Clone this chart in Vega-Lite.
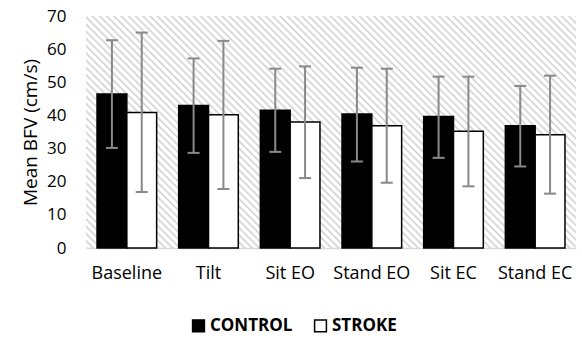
{
  "$schema": "https://vega.github.io/schema/vega-lite/v6.json",
  "autosize": {"type": "none"},
  "width": 490,
  "height": 232,
  "padding": {"left": 86, "top": 16, "right": 6, "bottom": 90},
  "background": "white",
  "config": {
    "font": "Open Sans",
    "axisY": {
      "values": [0, 10, 20, 30, 40, 50, 60, 70],
      "labelOverlap": false,
      "grid": false, "domain": false, "ticks": false,
      "labelFontSize": 17, "labelColor": "#000000", "labelPadding": 20,
      "titleFontSize": 19, "titleFontWeight": "normal",
      "titleColor": "#000000", "titlePadding": 6
    },
    "view": {
      "stroke": null,
      "fill": {
        "gradient": "linear",
        "x1": 0, "y1": 1, "x2": 1.20365, "y2": 0.4301,
        "stops": [
{"offset":0.000,"color":"#cfcfcf"},{"offset":0.003,"color":"#ffffff"},{"offset":0.007,"color":"#ffffff"},
{"offset":0.010,"color":"#cfcfcf"},{"offset":0.013,"color":"#ffffff"},{"offset":0.017,"color":"#ffffff"},
{"offset":0.020,"color":"#cfcfcf"},{"offset":0.023,"color":"#ffffff"},{"offset":0.027,"color":"#ffffff"},
{"offset":0.030,"color":"#cfcfcf"},{"offset":0.033,"color":"#ffffff"},{"offset":0.037,"color":"#ffffff"},
{"offset":0.040,"color":"#cfcfcf"},{"offset":0.043,"color":"#ffffff"},{"offset":0.047,"color":"#ffffff"},
{"offset":0.050,"color":"#cfcfcf"},{"offset":0.053,"color":"#ffffff"},{"offset":0.057,"color":"#ffffff"},
{"offset":0.060,"color":"#cfcfcf"},{"offset":0.063,"color":"#ffffff"},{"offset":0.067,"color":"#ffffff"},
{"offset":0.070,"color":"#cfcfcf"},{"offset":0.073,"color":"#ffffff"},{"offset":0.077,"color":"#ffffff"},
{"offset":0.080,"color":"#cfcfcf"},{"offset":0.083,"color":"#ffffff"},{"offset":0.087,"color":"#ffffff"},
{"offset":0.090,"color":"#cfcfcf"},{"offset":0.093,"color":"#ffffff"},{"offset":0.097,"color":"#ffffff"},
{"offset":0.100,"color":"#cfcfcf"},{"offset":0.103,"color":"#ffffff"},{"offset":0.107,"color":"#ffffff"},
{"offset":0.110,"color":"#cfcfcf"},{"offset":0.113,"color":"#ffffff"},{"offset":0.117,"color":"#ffffff"},
{"offset":0.120,"color":"#cfcfcf"},{"offset":0.123,"color":"#ffffff"},{"offset":0.127,"color":"#ffffff"},
{"offset":0.130,"color":"#cfcfcf"},{"offset":0.133,"color":"#ffffff"},{"offset":0.137,"color":"#ffffff"},
{"offset":0.140,"color":"#cfcfcf"},{"offset":0.143,"color":"#ffffff"},{"offset":0.147,"color":"#ffffff"},
{"offset":0.150,"color":"#cfcfcf"},{"offset":0.153,"color":"#ffffff"},{"offset":0.157,"color":"#ffffff"},
{"offset":0.160,"color":"#cfcfcf"},{"offset":0.163,"color":"#ffffff"},{"offset":0.167,"color":"#ffffff"},
{"offset":0.170,"color":"#cfcfcf"},{"offset":0.173,"color":"#ffffff"},{"offset":0.177,"color":"#ffffff"},
{"offset":0.180,"color":"#cfcfcf"},{"offset":0.183,"color":"#ffffff"},{"offset":0.187,"color":"#ffffff"},
{"offset":0.190,"color":"#cfcfcf"},{"offset":0.193,"color":"#ffffff"},{"offset":0.197,"color":"#ffffff"},
{"offset":0.200,"color":"#cfcfcf"},{"offset":0.203,"color":"#ffffff"},{"offset":0.207,"color":"#ffffff"},
{"offset":0.210,"color":"#cfcfcf"},{"offset":0.213,"color":"#ffffff"},{"offset":0.217,"color":"#ffffff"},
{"offset":0.220,"color":"#cfcfcf"},{"offset":0.223,"color":"#ffffff"},{"offset":0.227,"color":"#ffffff"},
{"offset":0.230,"color":"#cfcfcf"},{"offset":0.233,"color":"#ffffff"},{"offset":0.237,"color":"#ffffff"},
{"offset":0.240,"color":"#cfcfcf"},{"offset":0.243,"color":"#ffffff"},{"offset":0.247,"color":"#ffffff"},
{"offset":0.250,"color":"#cfcfcf"},{"offset":0.253,"color":"#ffffff"},{"offset":0.257,"color":"#ffffff"},
{"offset":0.260,"color":"#cfcfcf"},{"offset":0.263,"color":"#ffffff"},{"offset":0.267,"color":"#ffffff"},
{"offset":0.270,"color":"#cfcfcf"},{"offset":0.273,"color":"#ffffff"},{"offset":0.277,"color":"#ffffff"},
{"offset":0.280,"color":"#cfcfcf"},{"offset":0.283,"color":"#ffffff"},{"offset":0.287,"color":"#ffffff"},
{"offset":0.290,"color":"#cfcfcf"},{"offset":0.293,"color":"#ffffff"},{"offset":0.297,"color":"#ffffff"},
{"offset":0.300,"color":"#cfcfcf"},{"offset":0.303,"color":"#ffffff"},{"offset":0.307,"color":"#ffffff"},
{"offset":0.310,"color":"#cfcfcf"},{"offset":0.313,"color":"#ffffff"},{"offset":0.317,"color":"#ffffff"},
{"offset":0.320,"color":"#cfcfcf"},{"offset":0.323,"color":"#ffffff"},{"offset":0.327,"color":"#ffffff"},
{"offset":0.330,"color":"#cfcfcf"},{"offset":0.333,"color":"#ffffff"},{"offset":0.337,"color":"#ffffff"},
{"offset":0.340,"color":"#cfcfcf"},{"offset":0.343,"color":"#ffffff"},{"offset":0.347,"color":"#ffffff"},
{"offset":0.350,"color":"#cfcfcf"},{"offset":0.353,"color":"#ffffff"},{"offset":0.357,"color":"#ffffff"},
{"offset":0.360,"color":"#cfcfcf"},{"offset":0.363,"color":"#ffffff"},{"offset":0.367,"color":"#ffffff"},
{"offset":0.370,"color":"#cfcfcf"},{"offset":0.373,"color":"#ffffff"},{"offset":0.377,"color":"#ffffff"},
{"offset":0.380,"color":"#cfcfcf"},{"offset":0.383,"color":"#ffffff"},{"offset":0.387,"color":"#ffffff"},
{"offset":0.390,"color":"#cfcfcf"},{"offset":0.393,"color":"#ffffff"},{"offset":0.397,"color":"#ffffff"},
{"offset":0.400,"color":"#cfcfcf"},{"offset":0.403,"color":"#ffffff"},{"offset":0.407,"color":"#ffffff"},
{"offset":0.410,"color":"#cfcfcf"},{"offset":0.413,"color":"#ffffff"},{"offset":0.417,"color":"#ffffff"},
{"offset":0.420,"color":"#cfcfcf"},{"offset":0.423,"color":"#ffffff"},{"offset":0.427,"color":"#ffffff"},
{"offset":0.430,"color":"#cfcfcf"},{"offset":0.433,"color":"#ffffff"},{"offset":0.437,"color":"#ffffff"},
{"offset":0.440,"color":"#cfcfcf"},{"offset":0.443,"color":"#ffffff"},{"offset":0.447,"color":"#ffffff"},
{"offset":0.450,"color":"#cfcfcf"},{"offset":0.453,"color":"#ffffff"},{"offset":0.457,"color":"#ffffff"},
{"offset":0.460,"color":"#cfcfcf"},{"offset":0.463,"color":"#ffffff"},{"offset":0.467,"color":"#ffffff"},
{"offset":0.470,"color":"#cfcfcf"},{"offset":0.473,"color":"#ffffff"},{"offset":0.477,"color":"#ffffff"},
{"offset":0.480,"color":"#cfcfcf"},{"offset":0.483,"color":"#ffffff"},{"offset":0.487,"color":"#ffffff"},
{"offset":0.490,"color":"#cfcfcf"},{"offset":0.493,"color":"#ffffff"},{"offset":0.497,"color":"#ffffff"},
{"offset":0.500,"color":"#cfcfcf"},{"offset":0.503,"color":"#ffffff"},{"offset":0.507,"color":"#ffffff"},
{"offset":0.510,"color":"#cfcfcf"},{"offset":0.513,"color":"#ffffff"},{"offset":0.517,"color":"#ffffff"},
{"offset":0.520,"color":"#cfcfcf"},{"offset":0.523,"color":"#ffffff"},{"offset":0.527,"color":"#ffffff"},
{"offset":0.530,"color":"#cfcfcf"},{"offset":0.533,"color":"#ffffff"},{"offset":0.537,"color":"#ffffff"},
{"offset":0.540,"color":"#cfcfcf"},{"offset":0.543,"color":"#ffffff"},{"offset":0.547,"color":"#ffffff"},
{"offset":0.550,"color":"#cfcfcf"},{"offset":0.553,"color":"#ffffff"},{"offset":0.557,"color":"#ffffff"},
{"offset":0.560,"color":"#cfcfcf"},{"offset":0.563,"color":"#ffffff"},{"offset":0.567,"color":"#ffffff"},
{"offset":0.570,"color":"#cfcfcf"},{"offset":0.573,"color":"#ffffff"},{"offset":0.577,"color":"#ffffff"},
{"offset":0.580,"color":"#cfcfcf"},{"offset":0.583,"color":"#ffffff"},{"offset":0.587,"color":"#ffffff"},
{"offset":0.590,"color":"#cfcfcf"},{"offset":0.593,"color":"#ffffff"},{"offset":0.597,"color":"#ffffff"},
{"offset":0.600,"color":"#cfcfcf"},{"offset":0.603,"color":"#ffffff"},{"offset":0.607,"color":"#ffffff"},
{"offset":0.610,"color":"#cfcfcf"},{"offset":0.613,"color":"#ffffff"},{"offset":0.617,"color":"#ffffff"},
{"offset":0.620,"color":"#cfcfcf"},{"offset":0.623,"color":"#ffffff"},{"offset":0.627,"color":"#ffffff"},
{"offset":0.630,"color":"#cfcfcf"},{"offset":0.633,"color":"#ffffff"},{"offset":0.637,"color":"#ffffff"},
{"offset":0.640,"color":"#cfcfcf"},{"offset":0.643,"color":"#ffffff"},{"offset":0.647,"color":"#ffffff"},
{"offset":0.650,"color":"#cfcfcf"},{"offset":0.653,"color":"#ffffff"},{"offset":0.657,"color":"#ffffff"},
{"offset":0.660,"color":"#cfcfcf"},{"offset":0.663,"color":"#ffffff"},{"offset":0.667,"color":"#ffffff"},
{"offset":0.670,"color":"#cfcfcf"},{"offset":0.673,"color":"#ffffff"},{"offset":0.677,"color":"#ffffff"},
{"offset":0.680,"color":"#cfcfcf"},{"offset":0.683,"color":"#ffffff"},{"offset":0.687,"color":"#ffffff"},
{"offset":0.690,"color":"#cfcfcf"},{"offset":0.693,"color":"#ffffff"},{"offset":0.697,"color":"#ffffff"},
{"offset":0.700,"color":"#cfcfcf"},{"offset":0.703,"color":"#ffffff"},{"offset":0.707,"color":"#ffffff"},
{"offset":0.710,"color":"#cfcfcf"},{"offset":0.713,"color":"#ffffff"},{"offset":0.717,"color":"#ffffff"},
{"offset":0.720,"color":"#cfcfcf"},{"offset":0.723,"color":"#ffffff"},{"offset":0.727,"color":"#ffffff"},
{"offset":0.730,"color":"#cfcfcf"},{"offset":0.733,"color":"#ffffff"},{"offset":0.737,"color":"#ffffff"},
{"offset":0.740,"color":"#cfcfcf"},{"offset":0.743,"color":"#ffffff"},{"offset":0.747,"color":"#ffffff"},
{"offset":0.750,"color":"#cfcfcf"},{"offset":0.753,"color":"#ffffff"},{"offset":0.757,"color":"#ffffff"},
{"offset":0.760,"color":"#cfcfcf"},{"offset":0.763,"color":"#ffffff"},{"offset":0.767,"color":"#ffffff"},
{"offset":0.770,"color":"#cfcfcf"},{"offset":0.773,"color":"#ffffff"},{"offset":0.777,"color":"#ffffff"},
{"offset":0.780,"color":"#cfcfcf"},{"offset":0.783,"color":"#ffffff"},{"offset":0.787,"color":"#ffffff"},
{"offset":0.790,"color":"#cfcfcf"},{"offset":0.793,"color":"#ffffff"},{"offset":0.797,"color":"#ffffff"},
{"offset":0.800,"color":"#cfcfcf"},{"offset":0.803,"color":"#ffffff"},{"offset":0.807,"color":"#ffffff"},
{"offset":0.810,"color":"#cfcfcf"},{"offset":0.813,"color":"#ffffff"},{"offset":0.817,"color":"#ffffff"},
{"offset":0.820,"color":"#cfcfcf"},{"offset":0.823,"color":"#ffffff"},{"offset":0.827,"color":"#ffffff"},
{"offset":0.830,"color":"#cfcfcf"},{"offset":0.833,"color":"#ffffff"},{"offset":0.837,"color":"#ffffff"},
{"offset":0.840,"color":"#cfcfcf"},{"offset":0.843,"color":"#ffffff"},{"offset":0.847,"color":"#ffffff"},
{"offset":0.850,"color":"#cfcfcf"},{"offset":0.853,"color":"#ffffff"},{"offset":0.857,"color":"#ffffff"},
{"offset":0.860,"color":"#cfcfcf"},{"offset":0.863,"color":"#ffffff"},{"offset":0.867,"color":"#ffffff"},
{"offset":0.870,"color":"#cfcfcf"},{"offset":0.873,"color":"#ffffff"},{"offset":0.877,"color":"#ffffff"},
{"offset":0.880,"color":"#cfcfcf"},{"offset":0.883,"color":"#ffffff"},{"offset":0.887,"color":"#ffffff"},
{"offset":0.890,"color":"#cfcfcf"},{"offset":0.893,"color":"#ffffff"},{"offset":0.897,"color":"#ffffff"},
{"offset":0.900,"color":"#cfcfcf"},{"offset":0.903,"color":"#ffffff"},{"offset":0.907,"color":"#ffffff"},
{"offset":0.910,"color":"#cfcfcf"},{"offset":0.913,"color":"#ffffff"},{"offset":0.917,"color":"#ffffff"},
{"offset":0.920,"color":"#cfcfcf"},{"offset":0.923,"color":"#ffffff"},{"offset":0.927,"color":"#ffffff"},
{"offset":0.930,"color":"#cfcfcf"},{"offset":0.933,"color":"#ffffff"},{"offset":0.937,"color":"#ffffff"},
{"offset":0.940,"color":"#cfcfcf"},{"offset":0.943,"color":"#ffffff"},{"offset":0.947,"color":"#ffffff"},
{"offset":0.950,"color":"#cfcfcf"},{"offset":0.953,"color":"#ffffff"},{"offset":0.957,"color":"#ffffff"},
{"offset":0.960,"color":"#cfcfcf"},{"offset":0.963,"color":"#ffffff"},{"offset":0.967,"color":"#ffffff"},
{"offset":0.970,"color":"#cfcfcf"},{"offset":0.973,"color":"#ffffff"},{"offset":0.977,"color":"#ffffff"},
{"offset":0.980,"color":"#cfcfcf"},{"offset":0.983,"color":"#ffffff"},{"offset":0.987,"color":"#ffffff"},
{"offset":0.990,"color":"#cfcfcf"},{"offset":0.993,"color":"#ffffff"},{"offset":0.997,"color":"#ffffff"},
{"offset":1.000,"color":"#cfcfcf"}
        ]
      }
    }
  },
  "data": {
    "values": [
      {"condition": "Baseline", "group": "CONTROL", "mean": 46.5, "lo": 30.2, "hi": 62.7},
      {"condition": "Baseline", "group": "STROKE", "mean": 40.9, "lo": 16.9, "hi": 65.0},
      {"condition": "Tilt", "group": "CONTROL", "mean": 43.0, "lo": 28.7, "hi": 57.2},
      {"condition": "Tilt", "group": "STROKE", "mean": 40.2, "lo": 17.8, "hi": 62.5},
      {"condition": "Sit EO", "group": "CONTROL", "mean": 41.6, "lo": 29.0, "hi": 54.1},
      {"condition": "Sit EO", "group": "STROKE", "mean": 38.0, "lo": 21.1, "hi": 54.8},
      {"condition": "Stand EO", "group": "CONTROL", "mean": 40.4, "lo": 26.1, "hi": 54.4},
      {"condition": "Stand EO", "group": "STROKE", "mean": 36.9, "lo": 19.7, "hi": 54.1},
      {"condition": "Sit EC", "group": "CONTROL", "mean": 39.7, "lo": 27.2, "hi": 51.7},
      {"condition": "Sit EC", "group": "STROKE", "mean": 35.2, "lo": 18.6, "hi": 51.7},
      {"condition": "Stand EC", "group": "CONTROL", "mean": 36.9, "lo": 24.6, "hi": 48.9},
      {"condition": "Stand EC", "group": "STROKE", "mean": 34.2, "lo": 16.4, "hi": 52.0}
    ]
  },
  "encoding": {
    "x": {
      "field": "condition", "type": "nominal",
      "sort": ["Baseline", "Tilt", "Sit EO", "Stand EO", "Sit EC", "Stand EC"],
      "scale": {"paddingInner": 0.27, "paddingOuter": 0.135},
      "axis": {
        "title": null, "labelAngle": 0, "ticks": false,
        "domainColor": "#d9d9d9", "domainWidth": 1.5,
        "labelFontSize": 18, "labelColor": "#000000", "labelPadding": 16
      }
    },
    "xOffset": {"field": "group", "type": "nominal", "sort": ["CONTROL", "STROKE"]}
  },
  "layer": [
    {
      "mark": {"type": "bar", "stroke": "#000000", "strokeWidth": 1.5},
      "encoding": {
        "y": {
          "field": "mean", "type": "quantitative",
          "scale": {"domain": [0, 70]},
          "title": "Mean BFV (cm/s)",
          "axis": {"values": [0, 10, 20, 30, 40, 50, 60, 70], "title": "Mean BFV (cm/s)"}
        },
        "color": {
          "field": "group", "type": "nominal",
          "sort": ["CONTROL", "STROKE"],
          "scale": {"range": ["#000000", "#ffffff"]},
          "legend": {
            "title": null, "orient": "none", "direction": "horizontal",
            "legendX": 104, "legendY": 301,
            "symbolType": "square", "symbolSize": 140,
            "symbolStrokeColor": "#000000", "symbolStrokeWidth": 1.5,
            "symbolOpacity": 1,
            "labelFontSize": 17, "labelFontWeight": "bold", "labelColor": "#000000",
            "labelOffset": 3, "columnPadding": 18
          }
        }
      }
    },
    {
      "mark": {"type": "rule", "color": "#898989", "strokeWidth": 2},
      "encoding": {
        "y": {"field": "lo", "type": "quantitative", "title": "Mean BFV (cm/s)", "scale": {"domain": [0, 70]},
          "axis": {"values": [0, 10, 20, 30, 40, 50, 60, 70], "title": "Mean BFV (cm/s)"}},
        "y2": {"field": "hi"}
      }
    },
    {
      "mark": {"type": "tick", "color": "#898989", "size": 12, "thickness": 2, "opacity": 1},
      "encoding": {"y": {"field": "lo", "type": "quantitative", "title": "Mean BFV (cm/s)", "scale": {"domain": [0, 70]},
        "axis": {"values": [0, 10, 20, 30, 40, 50, 60, 70], "title": "Mean BFV (cm/s)"}}}
    },
    {
      "mark": {"type": "tick", "color": "#898989", "size": 12, "thickness": 2, "opacity": 1},
      "encoding": {"y": {"field": "hi", "type": "quantitative", "title": "Mean BFV (cm/s)", "scale": {"domain": [0, 70]},
        "axis": {"values": [0, 10, 20, 30, 40, 50, 60, 70], "title": "Mean BFV (cm/s)"}}}
    }
  ]
}
